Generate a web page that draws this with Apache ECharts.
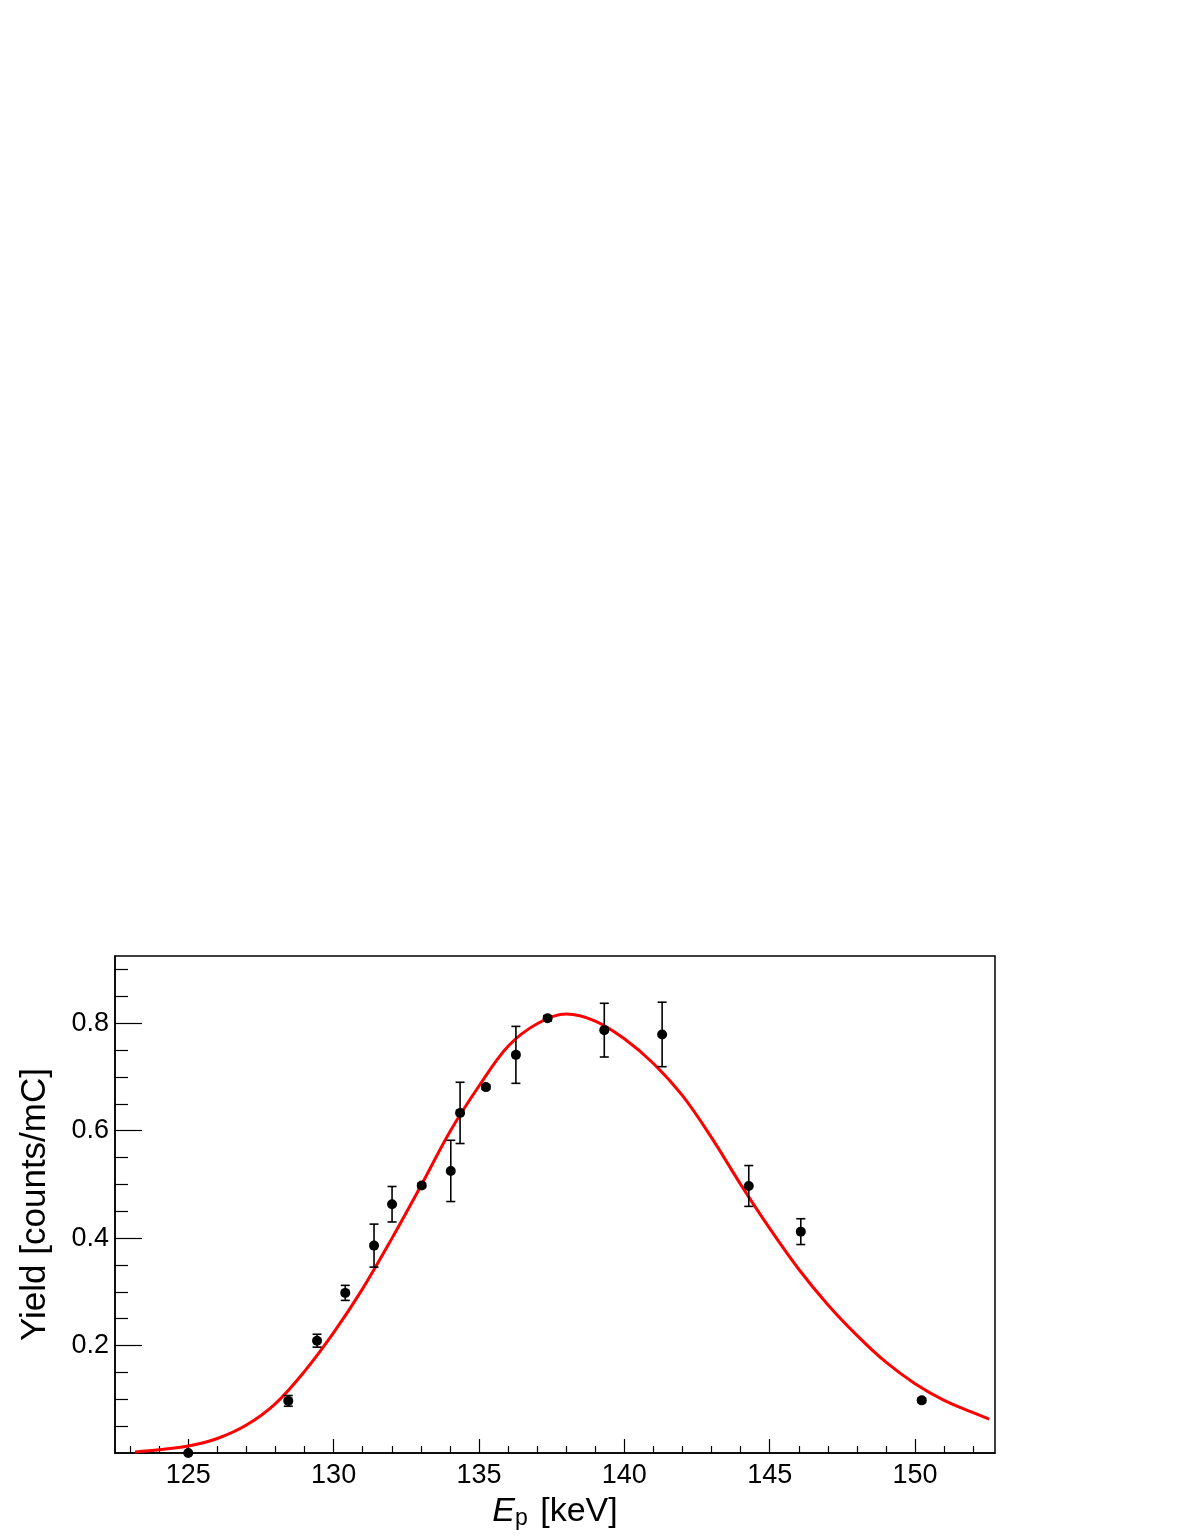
<!DOCTYPE html>
<html>
<head>
<meta charset="utf-8">
<script src="https://cdn.jsdelivr.net/npm/echarts@6/dist/echarts.min.js"></script>
<style>
  html, body { margin: 0; padding: 0; background: #fff; }
  #main { width: 1187px; height: 1537px; }
</style>
</head>
<body>
<div id="main"></div>
<script>
// measured points
const energy = [125.0, 128.44, 129.43, 130.40, 131.39, 132.01, 133.03, 134.03, 134.35, 135.24, 136.27, 137.36, 139.31, 141.30, 144.28, 146.07, 150.23];
const yieldVal = [0.0, 0.097, 0.209, 0.298, 0.386, 0.463, 0.498, 0.525, 0.633, 0.681, 0.741, 0.809, 0.787, 0.779, 0.497, 0.412, 0.098];
const yieldErr = [0, 0.010, 0.012, 0.014, 0.040, 0.033, 0.004, 0.057, 0.057, 0.004, 0.053, 0.005, 0.050, 0.060, 0.038, 0.024, 0.004];

// fit curve
const fitE = [123.17, 124, 125, 126, 127, 128, 129, 130, 131, 132, 133, 134, 135, 136, 137, 138, 139, 140, 141, 142, 143, 144, 145, 146, 147, 148, 149, 150, 151, 152, 152.55];
const fitY = [0.002, 0.006, 0.013, 0.027, 0.052, 0.092, 0.152, 0.224, 0.306, 0.399, 0.497, 0.598, 0.683, 0.757, 0.799, 0.817, 0.804, 0.771, 0.725, 0.665, 0.587, 0.500, 0.418, 0.342, 0.276, 0.219, 0.169, 0.129, 0.098, 0.075, 0.063];

// axis ticks
const xMajor = [125, 130, 135, 140, 145, 150];
const xMinor = [123, 124, 126, 127, 128, 129, 131, 132, 133, 134, 136, 137, 138, 139, 141, 142, 143, 144, 146, 147, 148, 149, 151, 152];
const yMajor = [0.2, 0.4, 0.6, 0.8];
const yMinor = [0.05, 0.1, 0.15, 0.25, 0.3, 0.35, 0.45, 0.5, 0.55, 0.65, 0.7, 0.75, 0.85, 0.9];

const xMin = 122.48, xMax = 152.75;
const yMin = 0, yMax = 0.925;
const font = 'Liberation Sans, Arial, sans-serif';

var chart = echarts.init(document.getElementById('main'));

function renderErr(params, api) {
  var x = api.value(0), y = api.value(1), e = api.value(2);
  if (!e) return;
  var top = api.coord([x, y + e]);
  var bot = api.coord([x, y - e]);
  var st = { stroke: '#000', lineWidth: 1.6 };
  return {
    type: 'group',
    children: [
      { type: 'line', shape: { x1: top[0], y1: top[1], x2: bot[0], y2: bot[1] }, style: st },
      { type: 'line', shape: { x1: top[0] - 4.5, y1: top[1], x2: top[0] + 4.5, y2: top[1] }, style: st },
      { type: 'line', shape: { x1: bot[0] - 4.5, y1: bot[1], x2: bot[0] + 4.5, y2: bot[1] }, style: st }
    ]
  };
}

var option = {
  animation: false,
  backgroundColor: '#fff',
  textStyle: { fontFamily: font },
  grid: {
    left: 115, right: 192, top: 956, bottom: 84,
    show: true, borderColor: '#000', borderWidth: 1.5, backgroundColor: 'transparent'
  },
  xAxis: [
    {
      type: 'value', min: xMin, max: xMax, position: 'bottom',
      axisLine: { show: true, lineStyle: { color: '#000', width: 1.5 } },
      axisTick: { show: true, inside: true, length: 14, customValues: xMajor, lineStyle: { color: '#000', width: 1.2 } },
      axisLabel: { customValues: xMajor, color: '#000', fontSize: 27, fontFamily: font, margin: 9 },
      splitLine: { show: false },
      name: '{i|E}{s|p} [keV]',
      nameLocation: 'middle',
      nameGap: 40,
      nameTextStyle: {
        color: '#000', fontSize: 34, fontFamily: font,
        rich: {
          i: { fontStyle: 'italic', fontSize: 34, fontFamily: font, color: '#000' },
          s: { fontSize: 23, fontFamily: font, color: '#000', padding: [14, 3, 0, 0] }
        }
      }
    },
    {
      type: 'value', min: xMin, max: xMax, position: 'bottom',
      axisLine: { show: false },
      axisTick: { show: true, inside: true, length: 7, customValues: xMinor, lineStyle: { color: '#000', width: 1.2 } },
      axisLabel: { show: false },
      splitLine: { show: false }
    }
  ],
  yAxis: [
    {
      type: 'value', min: yMin, max: yMax, position: 'left',
      axisLine: { show: true, lineStyle: { color: '#000', width: 1.5 } },
      axisTick: { show: true, inside: true, length: 27, customValues: yMajor, lineStyle: { color: '#000', width: 1.2 } },
      axisLabel: {
        customValues: yMajor, color: '#000', fontSize: 27, fontFamily: font, margin: 6,
        formatter: function (v) { return v.toFixed(1); }
      },
      splitLine: { show: false },
      name: 'Yield [counts/mC]',
      nameLocation: 'middle',
      nameGap: 62,
      nameTextStyle: { color: '#000', fontSize: 35, fontFamily: font }
    },
    {
      type: 'value', min: yMin, max: yMax, position: 'left', offset: 0,
      axisLine: { show: false },
      axisTick: { show: true, inside: true, length: 13, customValues: yMinor, lineStyle: { color: '#000', width: 1.2 } },
      axisLabel: { show: false },
      splitLine: { show: false }
    }
  ],
  series: [
    {
      type: 'line',
      xAxisIndex: 0, yAxisIndex: 0,
      data: fitE.map(function (x, i) { return [x, fitY[i]]; }),
      showSymbol: false,
      smooth: 0.35,
      lineStyle: { color: '#ff0000', width: 3 },
      z: 3
    },
    {
      type: 'custom',
      xAxisIndex: 0, yAxisIndex: 0,
      data: energy.map(function (x, i) { return [x, yieldVal[i], yieldErr[i]]; }),
      renderItem: renderErr,
      z: 4
    },
    {
      type: 'scatter',
      xAxisIndex: 0, yAxisIndex: 0,
      data: energy.map(function (x, i) { return [x, yieldVal[i]]; }),
      symbol: 'circle',
      symbolSize: 10,
      itemStyle: { color: '#000', opacity: 1 },
      clip: false,
      z: 5
    }
  ]
};

chart.setOption(option);
</script>
</body>
</html>
